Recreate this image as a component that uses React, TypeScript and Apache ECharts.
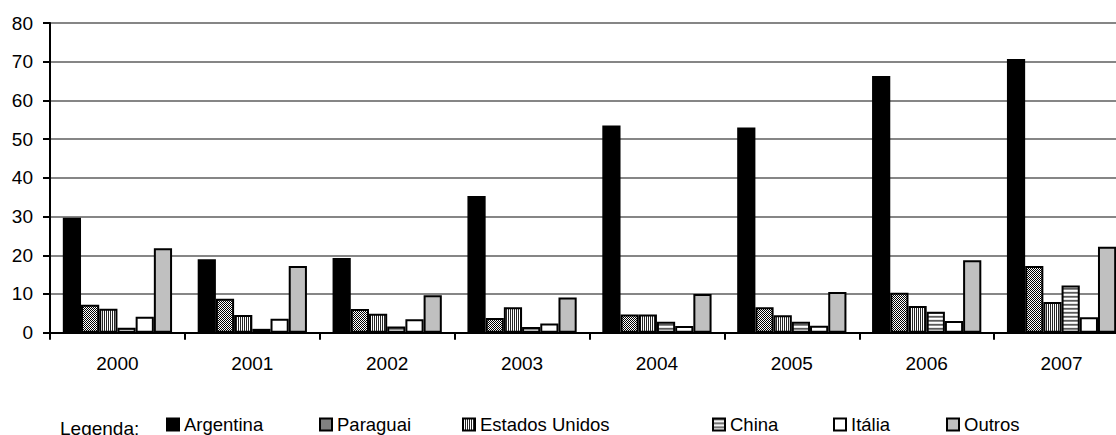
import React, { useEffect, useRef } from "react";
import * as echarts from "echarts";

// Import volumes by origin, 2000–2007
const years = ["2000", "2001", "2002", "2003", "2004", "2005", "2006", "2007"];
const argentina = [29.7, 19.0, 19.3, 35.3, 53.5, 53.0, 66.3, 70.7];
const paraguai = [7.2, 8.8, 6.1, 3.8, 4.7, 6.6, 10.3, 17.2];
const estadosUnidos = [6.2, 4.6, 4.9, 6.6, 4.7, 4.5, 6.9, 7.9];
const china = [1.3, 1.0, 1.6, 1.5, 2.8, 2.8, 5.4, 12.2];
const italia = [4.1, 3.6, 3.5, 2.4, 1.7, 1.8, 3.0, 4.0];
const outros = [21.8, 17.2, 9.7, 9.1, 10.0, 10.5, 18.7, 22.2];

const seriesNames = ["Argentina", "Paraguai", "Estados Unidos", "China", "Itália", "Outros"];
const yTicks = { min: 0, max: 80, interval: 10 };

const FONT = "'Liberation Sans', Arial, sans-serif";

// Builds a small repeating tile from a grid of pixel colours
function tile(rows: string[][]) {
  const c = document.createElement("canvas");
  c.height = rows.length;
  c.width = rows[0].length;
  const ctx = c.getContext("2d")!;
  rows.forEach((row, y) =>
    row.forEach((col, x) => {
      ctx.fillStyle = col;
      ctx.fillRect(x, y, 1, 1);
    })
  );
  return { image: c, repeat: "repeat" as const };
}

export default function App() {
  const ref = useRef<HTMLDivElement>(null);

  useEffect(() => {
    if (!ref.current) return;
    const chart = echarts.init(ref.current, undefined, { renderer: "svg" });

    const K = "#000000";
    const W = "#ffffff";
    const fills: any[] = [
      "#000000",
      tile([
        [K, W],
        [W, K],
      ]),
      tile([["#262626", W]]),
      tile([["#5a5a5a"], ["#8a8a8a"], [W], ["#e6e6e6"]]),
      "#ffffff",
      "#c0c0c0",
    ];
    const values = [argentina, paraguai, estadosUnidos, china, italia, outros];

    const legendLeft = [166, 319, 462, 712, 833, 946];

    chart.setOption({
      animation: false,
      backgroundColor: "#ffffff",
      textStyle: { fontFamily: FONT },
      grid: {
        left: 50,
        top: 23,
        right: -13,
        bottom: 102.3,
        containLabel: false,
        outerBoundsMode: "none",
      },
      xAxis: {
        type: "category",
        data: years,
        axisLine: { show: true, lineStyle: { color: "#000", width: 2 } },
        axisTick: { show: true, length: 7, alignWithLabel: false, lineStyle: { color: "#000", width: 2 } },
        axisLabel: { color: "#000", fontSize: 19, fontFamily: FONT, margin: 21 },
        splitLine: { show: false },
      },
      yAxis: {
        type: "value",
        min: yTicks.min,
        max: yTicks.max,
        interval: yTicks.interval,
        axisLine: { show: true, lineStyle: { color: "#000", width: 2 } },
        axisTick: { show: true, length: 7, lineStyle: { color: "#000", width: 2 } },
        axisLabel: { color: "#000", fontSize: 19, fontFamily: FONT, margin: 17 },
        splitLine: { show: true, lineStyle: { color: "#868686", width: 2 } },
      },
      legend: seriesNames.map((name, i) => ({
        data: [name],
        left: legendLeft[i],
        top: 415,
        padding: 0,
        itemGap: 0,
        itemWidth: 12,
        itemHeight: 12,
        icon: "rect",
        selectedMode: false,
        textStyle: { color: "#000", fontSize: 18.5, fontFamily: FONT },
      })),
      graphic: [
        {
          type: "text",
          x: 60,
          y: 428,
          style: {
            text: "Legenda:",
            fill: "#000",
            fontSize: 19,
            fontFamily: FONT,
            verticalAlign: "middle",
          },
        },
      ],
      series: seriesNames.map((name, i) => ({
        name,
        type: "bar",
        data: values[i],
        barGap: "0%",
        barCategoryGap: "19%",
        itemStyle: { color: fills[i], borderColor: "#000", borderWidth: 2 },
        emphasis: { disabled: true },
      })),
    });

    return () => chart.dispose();
  }, []);

  return (
    <div
      ref={ref}
      style={{ position: "absolute", left: 0, top: 0, width: 1116, height: 435 }}
    />
  );
}
